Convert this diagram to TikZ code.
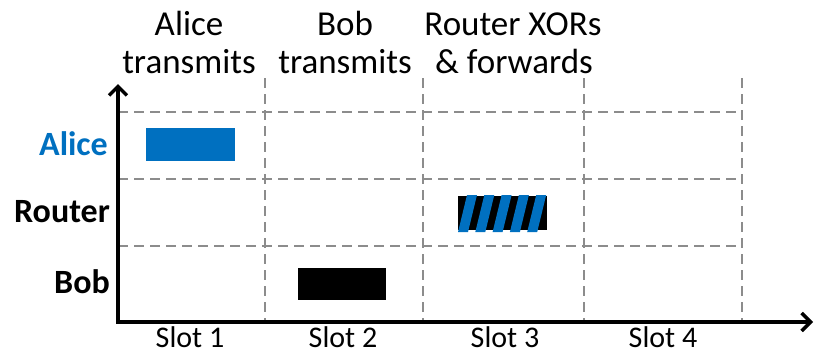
\documentclass[tikz,border=0pt]{standalone}
\usepackage{fontspec}
\setmainfont{Carlito}
\usetikzlibrary{arrows.meta}
\definecolor{aliceblue}{HTML}{0070C0}
\definecolor{gridgray}{HTML}{8C8C8C}
\tikzset{
  gridline/.style={draw=gridgray, line width=2pt, dash pattern=on 10pt off 6pt},
  axisline/.style={line width=3.5pt, -{Straight Barb[length=9pt,width=18pt,line width=3.5pt]}},
  head/.style={font=\fontsize{35}{40}\selectfont, anchor=base, inner sep=0pt},
  rowlab/.style={font=\fontsize{34}{40}\selectfont\bfseries, anchor=base east, inner sep=0pt},
  slotlab/.style={font=\fontsize{30}{34}\selectfont, anchor=base, inner sep=0pt},
}
\begin{document}
\begin{tikzpicture}[x=1pt,y=-1pt]
\useasboundingbox (0,0) rectangle (816,354);
% grid
\foreach \yy in {112,179,246} \draw[gridline] (118,\yy) -- (742,\yy);
\foreach \xx in {265,423,584,742} \draw[gridline] (\xx,78) -- (\xx,322);
% axes
\coordinate (o) at (118,322);
\coordinate (ytip) at (118,84);
\coordinate (xtip) at (813,322);
\draw[axisline] ([yshift=1.7pt]o) -- (ytip);
\draw[axisline] ([xshift=-1.7pt]o) -- (xtip);
% headers
\node[head] (h1a) at (189,35) {Alice};
\node[head] (h1b) at (189,73) {transmits};
\node[head] (h2a) at (345,35) {Bob};
\node[head] (h2b) at (345,73) {transmits};
\node[head] (h3a) at (513,35) {Router XORs};
\node[head] (h3b) at (514,73) {\& forwards};
% row labels
\node[rowlab, text=aliceblue] (la) at (108,155) {Alice};
\node[rowlab] (lr) at (110,222) {Router};
\node[rowlab] (lb) at (110,293) {Bob};
% slot labels
\node[slotlab] (s1) at (190,347) {Slot 1};
\node[slotlab] (s2) at (343,347) {Slot 2};
\node[slotlab] (s3) at (505,347) {Slot 3};
\node[slotlab] (s4) at (663,347) {Slot 4};
% packets
\fill[aliceblue] (146,128) rectangle (235,161);
\fill[black] (298,268) rectangle (386,300);
\fill[black] (458,196) rectangle (547,230);
\foreach \i in {0,...,4} {
  \pgfmathsetmacro{\bx}{458+17.3*\i}
  \fill[aliceblue] (\bx,232) -- (\bx+10,232) -- (\bx+19,195) -- (\bx+9,195) -- cycle;
}
\end{tikzpicture}
\end{document}
